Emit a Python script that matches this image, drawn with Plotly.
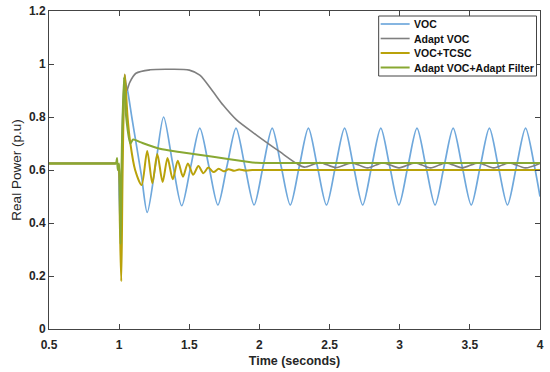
import plotly.graph_objects as go

# ---- data ----
voc_t = [0.5, 0.97, 0.985, 0.993, 1.0, 1.012, 1.025, 1.045, 1.06, 1.09, 1.125, 1.16, 1.2, 1.26, 1.317, 1.38, 1.446,
         1.51, 1.575, 1.64, 1.704, 1.768, 1.833, 1.897, 1.962, 2.026, 2.091, 2.155, 2.22, 2.284,
         2.349, 2.413, 2.478, 2.542, 2.607, 2.671, 2.736, 2.8, 2.865, 2.929, 2.994, 3.058, 3.123,
         3.187, 3.252, 3.316, 3.381, 3.445, 3.51, 3.574, 3.639, 3.703, 3.768, 3.832, 3.897, 3.961, 4.0]
voc_p = [0.625, 0.625, 0.625, 0.62, 0.5, 0.35, 0.7, 0.93, 0.9, 0.8, 0.688, 0.575, 0.44, 0.62, 0.80, 0.63, 0.465,
         0.612, 0.758, 0.613, 0.468, 0.613, 0.758, 0.613, 0.468, 0.613, 0.758, 0.613, 0.468, 0.613,
         0.758, 0.613, 0.468, 0.613, 0.758, 0.613, 0.468, 0.613, 0.758, 0.613, 0.468, 0.613, 0.758,
         0.613, 0.468, 0.613, 0.758, 0.613, 0.468, 0.613, 0.758, 0.613, 0.468, 0.613, 0.758, 0.613, 0.50]

avoc_t = [0.5, 0.97, 0.985, 0.995, 1.01, 1.025, 1.04, 1.055, 1.075, 1.12, 1.22, 1.35, 1.5, 1.575, 1.67, 1.741,
          1.837, 1.979, 2.145, 2.264, 2.32, 2.43, 2.545, 2.66, 2.77, 2.88, 2.995, 3.11, 3.22, 3.33,
          3.445, 3.56, 3.67, 3.78, 3.895, 4.0]
avoc_p = [0.625, 0.625, 0.625, 0.62, 0.45, 0.8, 0.96, 0.9, 0.93, 0.965, 0.978, 0.98, 0.977, 0.958, 0.895, 0.845,
          0.789, 0.732, 0.669, 0.625, 0.611, 0.628, 0.609, 0.627, 0.608, 0.627, 0.608, 0.627, 0.608, 0.627,
          0.608, 0.627, 0.608, 0.627, 0.608, 0.625]

tcsc_t = [0.5, 0.97, 0.985, 0.995, 1.005, 1.015, 1.025, 1.04, 1.06, 1.08, 1.114, 1.16, 1.2, 1.237, 1.272, 1.31,
          1.345, 1.382, 1.418, 1.455, 1.49, 1.528, 1.565, 1.6, 1.636, 1.673, 1.71, 1.745, 1.78,
          1.82, 1.855, 1.9, 1.95, 2.0, 2.05, 4.0]
tcsc_p = [0.625, 0.625, 0.625, 0.62, 0.4, 0.18, 0.6, 0.96, 0.8, 0.70, 0.60, 0.543, 0.672, 0.55, 0.66, 0.555,
          0.645, 0.565, 0.635, 0.575, 0.625, 0.582, 0.615, 0.588, 0.609, 0.592, 0.605, 0.595, 0.603,
          0.597, 0.602, 0.598, 0.6, 0.6, 0.6, 0.6]

filt_t = [0.5, 0.965, 0.975, 0.98, 0.985, 0.99, 1.0, 1.01, 1.02, 1.035, 1.05, 1.08, 1.1, 1.15, 1.29, 1.43,
          1.67, 1.9, 1.98, 2.1, 2.2, 4.0]
filt_p = [0.625, 0.625, 0.625, 0.63, 0.645, 0.6, 0.625, 0.32, 0.7, 0.95, 0.8, 0.70, 0.715, 0.705, 0.68, 0.668,
          0.65, 0.632, 0.627, 0.626, 0.626, 0.626]

names = ["VOC", "Adapt VOC", "VOC+TCSC", "Adapt VOC+Adapt Filter"]
colors = ["#6FA8DC", "#7F7F7F", "#B9A20A", "#88A832"]
widths = [1.7, 1.6, 2.0, 2.0]
series = [(voc_t, voc_p), (avoc_t, avoc_p), (tcsc_t, tcsc_p), (filt_t, filt_p)]

x_ticks = [0.5, 1, 1.5, 2, 2.5, 3, 3.5, 4]
y_ticks = [0, 0.2, 0.4, 0.6, 0.8, 1, 1.2]

FONT = "Liberation Sans, Arial, sans-serif"
AX = "#444444"

fig = go.Figure()
for (t, p), n, c, w in zip(series, names, colors, widths):
    fig.add_trace(go.Scatter(x=t, y=p, mode="lines", name=n, showlegend=False,
                             line=dict(color=c, width=w, shape="spline", smoothing=0.8)))

axis_common = dict(showline=True, linecolor=AX, linewidth=1, mirror="ticks", automargin=False,
                   ticks="inside", ticklen=5, tickcolor=AX, showgrid=False, zeroline=False,
                   tickfont=dict(family=FONT, size=12, color="#262626", weight="bold"))

# ---- legend box (compact, like the reference) ----
L, R, T, B = 49.0, 540.5, 11.0, 329.0     # plot area in pixels
def px(x):
    return (x - L) / (R - L)
def py(y):
    return (B - y) / (B - T)

box = dict(x0=379, x1=537, y0=16, y1=76)
rows = [24, 38.5, 53, 67.5]
shapes = [dict(type="rect", xref="paper", yref="paper",
               x0=px(box["x0"]), x1=px(box["x1"]), y0=py(box["y1"]), y1=py(box["y0"]),
               line=dict(color=AX, width=1), fillcolor="white", layer="above")]
annotations = []
for n, c, w, ry in zip(names, colors, widths, rows):
    shapes.append(dict(type="line", xref="paper", yref="paper",
                       x0=px(381), x1=px(410), y0=py(ry), y1=py(ry),
                       line=dict(color=c, width=w), layer="above"))
    annotations.append(dict(text=n, xref="paper", yref="paper", x=px(412), y=py(ry),
                            xanchor="left", yanchor="middle", showarrow=False,
                            font=dict(family=FONT, size=10.5, color="#111111", weight="bold")))

fig.update_layout(
    width=550, height=372,
    margin=dict(l=49, r=9.5, t=11, b=43),
    paper_bgcolor="white", plot_bgcolor="white",
    font=dict(family=FONT, color="#262626"),
    xaxis=dict(range=[0.5, 4], tickvals=x_ticks, ticklabelstandoff=5,
               title=dict(text="Time (seconds)", standoff=4,
                          font=dict(family=FONT, size=12.5, color="#262626", weight="bold")),
               **axis_common),
    yaxis=dict(range=[0, 1.2], tickvals=y_ticks,
               title=dict(text="Real Power (p.u)", standoff=4,
                          font=dict(family=FONT, size=13.5, color="#262626")),
               **axis_common),
    shapes=shapes,
    annotations=annotations,
    showlegend=False,
)

fig.write_html("out.html", config={"displayModeBar": False, "staticPlot": True},
               post_script="document.body.style.margin='0';document.body.style.overflow='hidden';")
